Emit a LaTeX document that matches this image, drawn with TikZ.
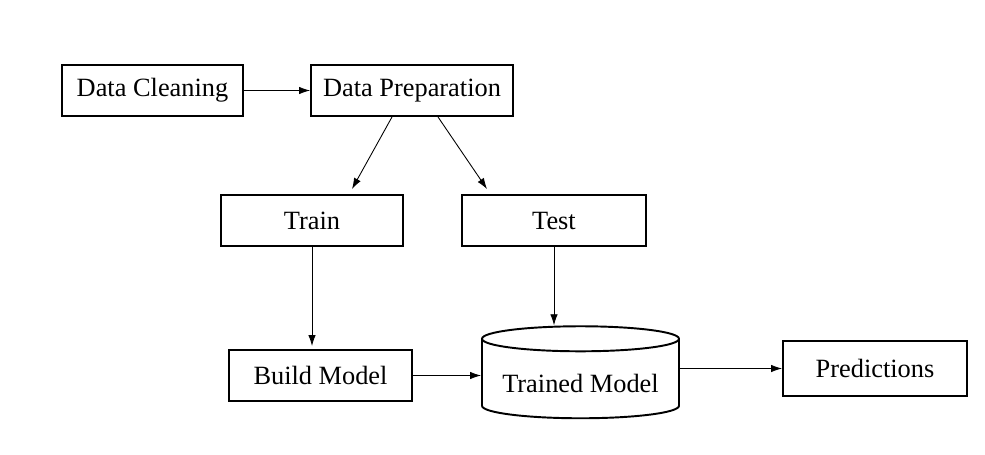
\documentclass[tikz,border=0pt]{standalone}
\usepackage{fontspec}
\setmainfont{Liberation Serif}
\usetikzlibrary{shapes.geometric,arrows.meta}

\begin{document}
\begin{tikzpicture}[x=1cm,y=1cm,
    box/.style={draw,line width=1.1pt,minimum height=1.02cm,font=\fontsize{15}{18}\selectfont},
    arr/.style={line width=0.5pt,-{Latex[length=2.2mm,width=1.5mm]}}]
  \useasboundingbox (0,0) rectangle (19.70,9.08);
  \node[box,minimum width=3.62cm] (clean) at (3.05,7.27) {Data Cleaning};
  \node[box,minimum width=4.04cm] (prep) at (8.24,7.27) {Data Preparation};
  \node[box,minimum width=3.64cm] (train) at (6.24,4.67) {Train};
  \node[box,minimum width=3.68cm] (test) at (11.08,4.67) {Test};
  \node[box,minimum width=3.66cm] (build) at (6.41,1.57) {Build Model};
  \node[box,shape=cylinder,shape border rotate=90,aspect=0.16,text height=0.55cm,
        minimum width=3.94cm,minimum height=1.84cm,inner sep=0pt] (trained) at (11.61,1.50) {Trained Model};
  \node[box,minimum width=3.68cm,minimum height=1.10cm] (pred) at (17.50,1.71) {Predictions};
  \draw[arr] (clean) -- (prep);
  \draw[arr] ([xshift=-4mm]prep.south) -- ([xshift=8mm,yshift=1mm]train.north);
  \draw[arr] ([xshift=5.2mm]prep.south) -- ([xshift=-13.4mm,yshift=1mm]test.north);
  \draw[arr] (train.south) -- ([yshift=0.6mm]train.south |- build.north);
  \draw[arr] (test.south) -- (test.south |- trained.north);
  \draw[arr] (build.east) -- (build.east -| trained.west);
  \draw[arr] (trained.east |- pred.west) -- (pred.west);
\end{tikzpicture}
\end{document}
